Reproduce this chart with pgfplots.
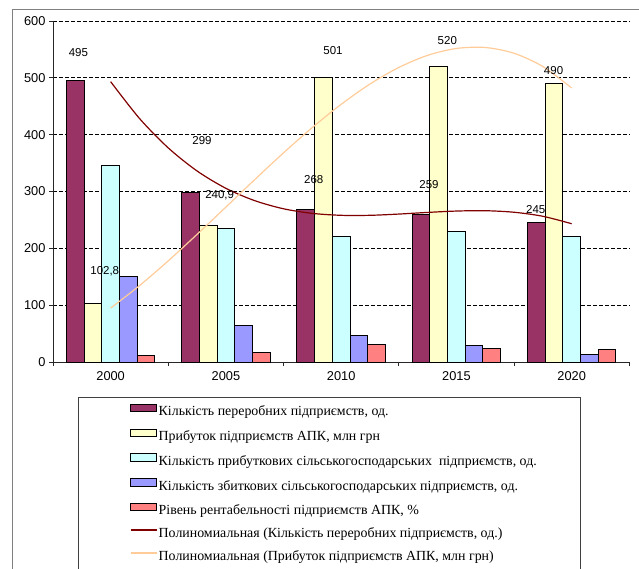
\documentclass[border=0pt]{standalone}
\usepackage{fontspec}
\setmainfont{Liberation Sans}
\newfontfamily\legendfont{Liberation Serif}
\usepackage{pgfplots}
\pgfplotsset{compat=1.18}

\definecolor{plum}{HTML}{993366}
\definecolor{paleyellow}{HTML}{FFFFCC}
\definecolor{palecyan}{HTML}{CCFFFF}
\definecolor{periwinkle}{HTML}{9999FF}
\definecolor{salmon}{HTML}{FF8080}
\definecolor{trendred}{HTML}{800000}
\definecolor{trendpeach}{HTML}{FFCC99}

\pgfplotsset{
  barlegend/.style={legend image code/.code={\draw[##1, line width=0.9pt] (0pt,0.9pt) rectangle (25.7pt,8.2pt);}},
  linelegend/.style={legend image code/.code={\draw[##1] (0pt,4.5pt) -- (26pt,4.5pt);}},
  catbar/.style={ybar, bar width=17.7pt, bar shift=#1, draw=black, line width=1pt, barlegend},
}

\begin{document}
\begin{tikzpicture}
\useasboundingbox (0pt,0pt) rectangle (639pt,568pt);
% outer chart frame and legend frame (bottom runs off the page)
\draw[gray, line width=0.8pt] (12pt,-5pt) -- (12pt,559pt) -- (645pt,559pt);
\draw[black!75, line width=0.8pt] (78pt,-5pt) -- (78pt,171pt) -- (580pt,171pt) -- (580pt,-5pt);

\begin{axis}[
  at={(53pt,206pt)}, anchor=south west,
  scale only axis, width=576.3pt, height=341pt,
  xmin=-0.5, xmax=4.5, ymin=0, ymax=600,
  axis x line*=bottom, axis y line*=left,
  axis line style={black!85, line width=0.9pt},
  ytick={0,100,...,600},
  xtick={-0.5,0.5,...,4.5}, xticklabels={},
  extra x ticks={0,1,2,3,4},
  extra x tick labels={2000,2005,2010,2015,2020},
  extra x tick style={major tick length=0pt, grid=none,
    xticklabel style={yshift=-6pt}},
  tick align=outside, major tick length=4pt,
  tick style={black!85, line width=0.8pt},
  ymajorgrids, grid style={black, dash pattern=on 4pt off 2pt, line width=0.9pt},
  tick label style={font=\fontsize{12.8}{14}\selectfont},
  /pgf/number format/assume math mode=true,
  legend cell align=left,
  legend style={draw=none, fill=none, at={(0.1336,-0.1226)}, anchor=north west,
    inner sep=0pt, outer sep=0pt, row sep=9.4pt,
    font={\legendfont\fontsize{13.9}{15}\selectfont},
    nodes={inner xsep=1.5pt, inner ysep=0pt, text height=10pt, text depth=3.5pt}},
  clip=false,
]
\addplot[catbar=-35.4pt, fill=plum] coordinates {(0,495) (1,299) (2,268) (3,259) (4,245)};
\addlegendentry{Кількість переробних підприємств, од.}
\addplot[catbar=-17.7pt, fill=paleyellow] coordinates {(0,102.8) (1,240.9) (2,501) (3,520) (4,490)};
\addlegendentry{Прибуток підприємств АПК, млн грн}
\addplot[catbar=0pt, fill=palecyan] coordinates {(0,345) (1,235) (2,220) (3,230) (4,220)};
\addlegendentry{Кількість прибуткових сільськогосподарських\ \ підприємств, од.}
\addplot[catbar=17.7pt, fill=periwinkle] coordinates {(0,150) (1,64) (2,47) (3,29) (4,13)};
\addlegendentry{Кількість збиткових сільськогосподарських підприємств, од.}
\addplot[catbar=35.4pt, fill=salmon] coordinates {(0,11) (1,16.5) (2,30) (3,24) (4,22)};
\addlegendentry{Рівень рентабельності підприємств АПК, \%}

% polynomial (cubic) trend lines
\addplot[trendred, line width=1.2pt, smooth, linelegend] coordinates {
  (0,493.3) (0.25,428.6) (0.5,376.7) (0.75,336.1) (1,305.6) (1.25,283.9) (1.5,269.6)
  (1.75,261.5) (2,258.1) (2.25,258.1) (2.5,260.3) (2.75,263.2) (3,265.6) (3.25,266.2)
  (3.5,263.5) (3.75,256.4) (4,243.3)};
\addlegendentry{Полиномиальная (Кількість переробних підприємств, од.)}
\addplot[trendpeach, line width=1.2pt, smooth, linelegend] coordinates {
  (0,94.9) (0.25,134.3) (0.5,178.0) (0.75,224.6) (1,272.6) (1.25,320.9) (1.5,368.0)
  (1.75,412.6) (2,453.4) (2.25,489.1) (2.5,518.2) (2.75,539.6) (3,551.7) (3.25,553.4)
  (3.5,543.2) (3.75,519.9) (4,482.1)};
\addlegendentry{Полиномиальная (Прибуток підприємств АПК, млн грн)}

% data labels
\begin{scope}[every node/.style={font=\fontsize{11.5}{13}\selectfont}]
\node at (axis cs:-0.28,543.7) {495};
\node at (axis cs:0.793,388.9) {299};
\node at (axis cs:1.762,320.3) {268};
\node at (axis cs:2.762,312.7) {259};
\node at (axis cs:3.688,268.7) {245};
\node at (axis cs:-0.051,158.9) {102,8};
\node at (axis cs:0.946,293.9) {240,9};
\node at (axis cs:1.929,547.8) {501};
\node at (axis cs:2.921,565.4) {520};
\node at (axis cs:3.843,512.6) {490};
\end{scope}
\end{axis}
\end{tikzpicture}
\end{document}
